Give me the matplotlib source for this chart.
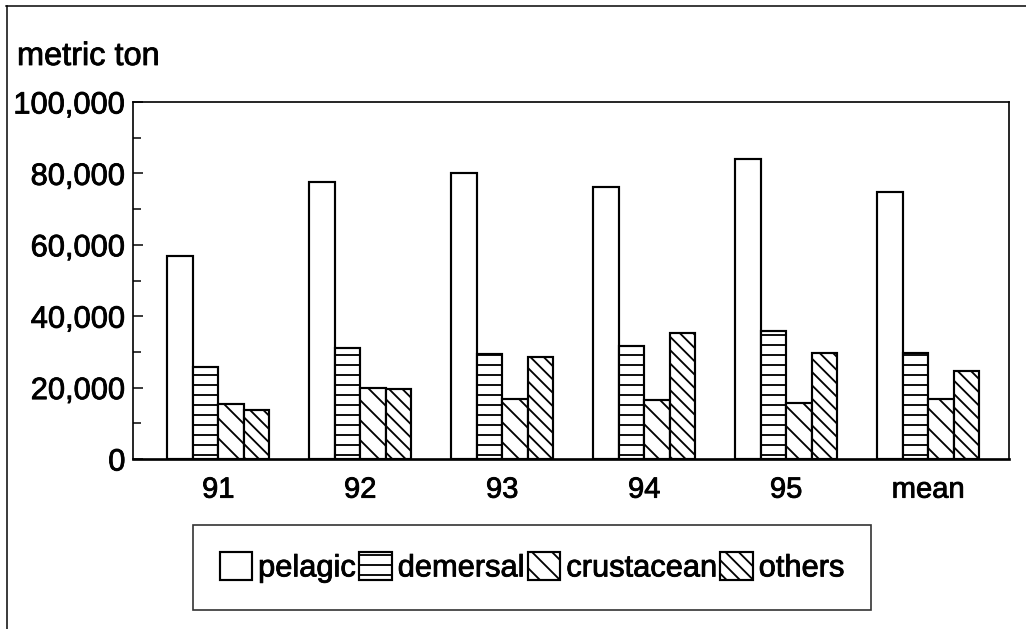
import matplotlib.pyplot as plt
import matplotlib.patheffects as pe
from matplotlib.lines import Line2D
from matplotlib.ticker import MultipleLocator, FuncFormatter
import numpy as np

years = ["91", "92", "93", "94", "95", "mean"]
pelagic = [56900, 77600, 80100, 76200, 84000, 74800]
demersal = [25800, 31100, 29400, 31700, 35900, 29700]
crustacean = [15400, 19900, 16800, 16500, 15700, 16800]
others = [13700, 19600, 28600, 35300, 29700, 24600]

plt.rcParams["font.family"] = ["Liberation Sans", "DejaVu Sans"]
plt.rcParams["hatch.linewidth"] = 1.1
plt.rcParams["hatch.color"] = "black"

fig = plt.figure(figsize=(8.55, 629 / 120), dpi=120)
ax = fig.add_axes([133 / 1026, 1 - 459 / 629, 876 / 1026, 357 / 629])

x = np.arange(len(years))
w = 0.18
series = [
    (pelagic, "pelagic", ""),
    (demersal, "demersal", "--"),
    (crustacean, "crustacean", "\\\\"),
    (others, "others", "\\\\\\"),
]
for i, (vals, name, hatch) in enumerate(series):
    ax.bar(x + (i - 1.5) * w, vals, w, facecolor="white", edgecolor="black",
           linewidth=1.3, hatch=hatch, label=name)

ax.set_xlim(-0.6, 5.57)
ax.set_ylim(0, 100000)
ax.set_xticks(x)
ax.set_xticklabels(years)
ax.yaxis.set_major_locator(MultipleLocator(20000))
ax.yaxis.set_minor_locator(MultipleLocator(10000))
ax.yaxis.set_major_formatter(FuncFormatter(lambda v, p: f"{int(v):,}"))
ax.tick_params(axis="y", which="major", direction="in", length=6, width=0.9,
               labelsize=18.5, pad=4.5)
ax.tick_params(axis="y", which="minor", direction="in", length=5, width=0.9)
ax.tick_params(axis="x", length=0, labelsize=17.5, pad=10)
for side, sp in ax.spines.items():
    sp.set_linewidth(1.0)
ax.spines["bottom"].set_linewidth(1.6)

title = fig.text(17 / 1026, 1 - 65 / 629, "metric ton", fontsize=19.5,
                 ha="left", va="baseline")

leg = fig.legend(loc="center", bbox_to_anchor=(532 / 1026, 1 - 567.5 / 629),
                 ncol=4, fontsize=18.5, frameon=True, fancybox=False,
                 handlelength=1.05, handleheight=1.05, handletextpad=0.2,
                 columnspacing=0.1, borderpad=0.85)
leg.get_frame().set_edgecolor("black")
leg.get_frame().set_linewidth(1.0)

# slightly heavier glyphs
heavy = [pe.withStroke(linewidth=0.5, foreground="black")]
for t in ax.get_xticklabels() + ax.get_yticklabels() + leg.get_texts() + [title]:
    t.set_path_effects(heavy)

# page frame on top and left
fig.add_artist(Line2D([6 / 1026, 1], [1 - 6 / 629, 1 - 6 / 629],
                      transform=fig.transFigure, color="black", linewidth=0.9))
fig.add_artist(Line2D([7 / 1026, 7 / 1026], [0, 1 - 6 / 629],
                      transform=fig.transFigure, color="black", linewidth=0.9))

fig.savefig("out.png", dpi=120)
